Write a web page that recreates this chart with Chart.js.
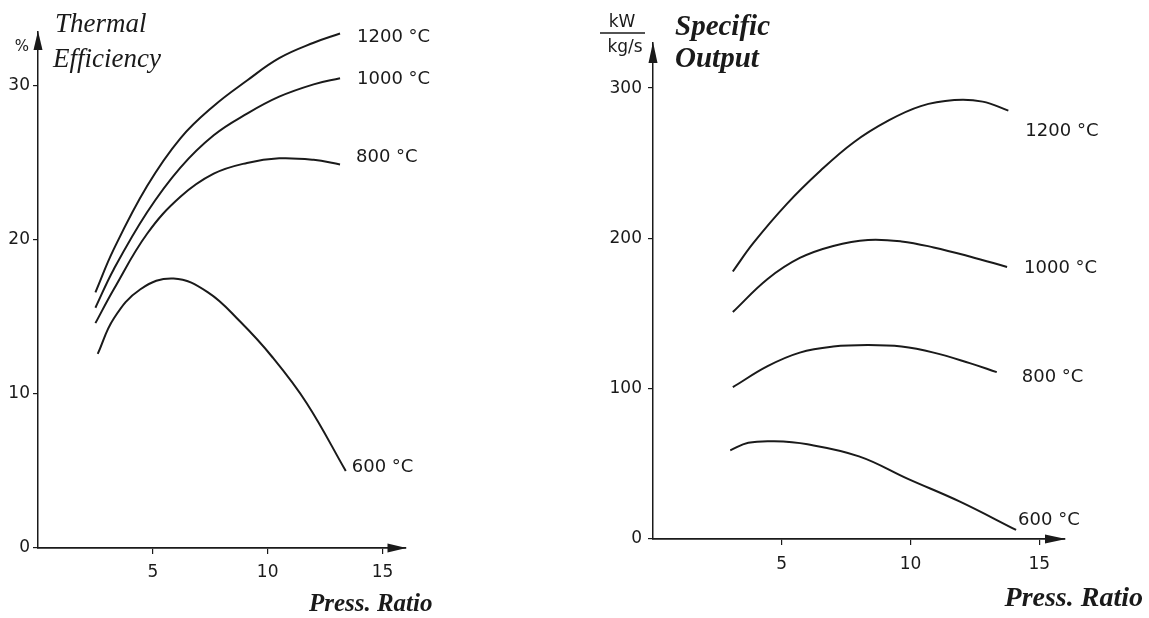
<!DOCTYPE html>
<html>
<head>
<meta charset="utf-8">
<script src="https://cdn.jsdelivr.net/npm/chart.js@4.4.1/dist/chart.umd.min.js"></script>
<style>
  html, body { margin: 0; padding: 0; background: #fff; }
  #wrap { position: relative; width: 1149px; height: 618px; overflow: hidden; background: #fff; }
  canvas { position: absolute; top: 0; }
  #effCanvas { left: 0; }
  #outCanvas { left: 560px; }
</style>
</head>
<body>
<div id="wrap">
  <canvas id="effCanvas" width="560" height="618"></canvas>
  <canvas id="outCanvas" width="589" height="618"></canvas>
</div>
<script>
// --- data ---
const curveLabels = ['1200 °C', '1000 °C', '800 °C', '600 °C'];
const xTicks = [5, 10, 15];
const effTicks = [0, 10, 20, 30];
const outTicks = [0, 100, 200, 300];

// Thermal efficiency (%) vs pressure ratio
const effPR = [2.5, 3.3, 4.75, 6.2, 7.65, 9.1, 10.5, 12.0, 13.15];
const eff1200 = [16.6, 19.4, 23.5, 26.6, 28.7, 30.35, 31.8, 32.8, 33.4];
const eff1000 = [15.6, 18.1, 21.8, 24.7, 26.8, 28.2, 29.3, 30.1, 30.5];
const eff800 = [14.6, 16.8, 20.4, 22.8, 24.3, 25.0, 25.3, 25.2, 24.9];
const eff600PR = [2.6, 3.3, 4.46, 5.9, 7.4, 8.8, 10.2, 11.7, 13.4];
const eff600 = [12.6, 14.9, 16.8, 17.5, 16.6, 14.7, 12.4, 9.4, 5.0];

// Specific output (kW per kg/s) vs pressure ratio
const out1200PR = [3.1, 3.9, 5.2, 6.5, 7.8, 9.1, 10.4, 11.7, 12.8, 13.8];
const out1200 = [178, 197, 223, 245, 264, 278, 288, 292, 291, 285];
const out1000PR = [3.1, 4.45, 5.7, 7.0, 8.35, 9.65, 10.9, 12.3, 13.75];
const out1000 = [151, 173, 187, 195, 199, 198, 194, 188, 181];
const out800PR = [3.1, 4.45, 5.7, 7.0, 8.35, 9.65, 10.9, 12.3, 13.35];
const out800 = [101, 115, 124, 128, 129, 128, 124, 117, 111];
const out600PR = [3.0, 3.7, 4.7, 6.0, 8.0, 9.9, 11.9, 14.1];
const out600 = [59, 64, 65, 63, 55, 40, 25, 6];

const INK = '#1a1a1a';
const SANS = '"DejaVu Sans", sans-serif';
const SERIF = '"Liberation Serif", serif';

// draws axis arrows, curve names and the axis titles
const curveTextPlugin = {
  id: 'curveText',
  afterDraw(chart, args, opts) {
    const { ctx, chartArea: a, scales: { x, y } } = chart;
    ctx.save();
    ctx.fillStyle = INK;
    ctx.strokeStyle = INK;

    // arrow heads on both axes
    ctx.beginPath();
    ctx.moveTo(a.left, a.top - 1);
    ctx.lineTo(a.left - 4.5, a.top + opts.arrowLen);
    ctx.lineTo(a.left + 4.5, a.top + opts.arrowLen);
    ctx.closePath();
    ctx.fill();
    ctx.beginPath();
    ctx.moveTo(a.right + 1, a.bottom);
    ctx.lineTo(a.right - opts.arrowLen, a.bottom - 4.5);
    ctx.lineTo(a.right - opts.arrowLen, a.bottom + 4.5);
    ctx.closePath();
    ctx.fill();

    // curve names next to each curve end
    ctx.font = '18px ' + SANS;
    ctx.textAlign = 'left';
    ctx.textBaseline = 'middle';
    chart.data.datasets.forEach((ds, i) => {
      const last = ds.data[ds.data.length - 1];
      const off = opts.labelOffsets[i];
      ctx.fillText(ds.label, x.getPixelForValue(last.x) + off[0], y.getPixelForValue(last.y) + off[1]);
    });

    // titles
    opts.titles.forEach(t => {
      ctx.font = t.font;
      ctx.textAlign = t.align || 'left';
      const bx = t.from === 'br' ? a.right : a.left;
      const by = t.from === 'br' ? a.bottom : a.top;
      ctx.fillText(t.text, bx + t.dx, by + t.dy);
    });

    // fraction bar for the unit
    if (opts.fraction) {
      const f = opts.fraction;
      ctx.lineWidth = 1.3;
      ctx.beginPath();
      ctx.moveTo(a.left + f.x1, a.top + f.y);
      ctx.lineTo(a.left + f.x2, a.top + f.y);
      ctx.stroke();
    }
    ctx.restore();
  }
};

function makeChart(canvas, cfg) {
  return new Chart(canvas, {
    type: 'line',
    data: {
      datasets: cfg.series.map((s, i) => ({
        label: curveLabels[i],
        data: s.x.map((v, k) => ({ x: v, y: s.y[k] })),
        borderColor: INK,
        borderWidth: 2,
        tension: 0.4,
        pointRadius: 0,
        fill: false,
        clip: false
      }))
    },
    options: {
      responsive: false,
      devicePixelRatio: 1,
      animation: false,
      events: [],
      layout: { padding: cfg.padding },
      plugins: {
        legend: { display: false },
        tooltip: { enabled: false },
        curveText: cfg.text
      },
      scales: {
        x: {
          type: 'linear',
          min: 0,
          max: cfg.xMax,
          afterBuildTicks: s => { s.ticks = xTicks.map(v => ({ value: v })); },
          afterFit: s => { s.height = cfg.xAxisHeight; },
          grid: { drawOnChartArea: false, drawTicks: true, tickLength: 6, color: INK, lineWidth: 1.2 },
          border: { display: true, color: INK, width: 1.8 },
          ticks: { font: { family: SANS, size: 17 }, color: INK, padding: cfg.xPad, maxRotation: 0 }
        },
        y: {
          type: 'linear',
          min: 0,
          max: cfg.yMax,
          afterBuildTicks: s => { s.ticks = cfg.yTicks.map(v => ({ value: v })); },
          afterFit: s => { s.width = cfg.yAxisWidth; },
          grid: { drawOnChartArea: false, drawTicks: true, tickLength: 5, color: INK, lineWidth: 1.2 },
          border: { display: true, color: INK, width: 1.5 },
          ticks: { font: { family: SANS, size: 17 }, color: INK, padding: cfg.yPad }
        }
      }
    },
    plugins: [curveTextPlugin]
  });
}

makeChart(document.getElementById('effCanvas'), {
  series: [
    { x: effPR, y: eff1200 },
    { x: effPR, y: eff1000 },
    { x: effPR, y: eff800 },
    { x: eff600PR, y: eff600 }
  ],
  xMax: 16,
  yMax: 33.5,
  yTicks: effTicks,
  padding: { left: 0, right: 154.5, top: 32, bottom: 0 },
  xAxisHeight: 70,
  yAxisWidth: 38,
  xPad: 8,
  yPad: 3,
  text: {
    arrowLen: 18,
    labelOffsets: [[17, 4], [17, 1], [16, -7], [6, -4]],
    titles: [
      { text: 'Thermal', font: 'italic 27px ' + SERIF, dx: 17, dy: -7 },
      { text: 'Efficiency', font: 'italic 27px ' + SERIF, dx: 15, dy: 28 },
      { text: '%', font: '15px ' + SANS, dx: -16, dy: 15, align: 'center' },
      { text: 'Press. Ratio', font: 'bold italic 25px ' + SERIF, dx: 27, dy: 57, align: 'right', from: 'br' }
    ]
  }
});

makeChart(document.getElementById('outCanvas'), {
  series: [
    { x: out1200PR, y: out1200 },
    { x: out1000PR, y: out1000 },
    { x: out800PR, y: out800 },
    { x: out600PR, y: out600 }
  ],
  xMax: 16,
  yMax: 330,
  yTicks: outTicks,
  padding: { left: 0, right: 84, top: 43, bottom: 0 },
  xAxisHeight: 79,
  yAxisWidth: 93,
  xPad: 9,
  yPad: 6,
  text: {
    arrowLen: 20,
    labelOffsets: [[17, 21], [17, 1], [25, 5], [2, -10]],
    titles: [
      { text: 'Specific', font: 'bold italic 29px ' + SERIF, dx: 22, dy: -15 },
      { text: 'Output', font: 'bold italic 29px ' + SERIF, dx: 22, dy: 17 },
      { text: 'kW', font: '17px ' + SANS, dx: -31, dy: -20, align: 'center' },
      { text: 'kg/s', font: '17px ' + SANS, dx: -28, dy: 5, align: 'center' },
      { text: 'Press. Ratio', font: 'bold italic 28px ' + SERIF, dx: 78, dy: 60, align: 'right', from: 'br' }
    ],
    fraction: { x1: -53, x2: -8, y: -10 }
  }
});
</script>
</body>
</html>
